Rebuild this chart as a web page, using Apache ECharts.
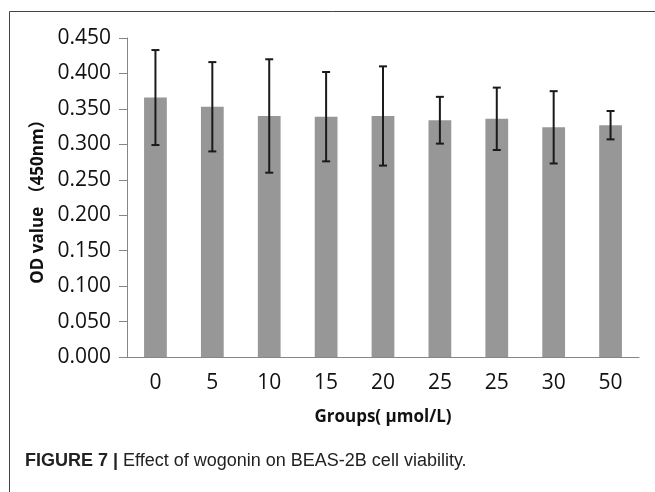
<!DOCTYPE html>
<html>
<head>
<meta charset="utf-8">
<script src="https://cdn.jsdelivr.net/npm/echarts@6/dist/echarts.min.js"></script>
<style>
    html, body {margin: 0; padding: 0; background: #fff;}
    #chart {width: 655px; height: 492px;}
</style>
</head>
<body>
<div id="chart"></div>
<script>
const groups = ["0", "5", "10", "15", "20", "25", "25", "30", "50"];
const odMean = [0.366, 0.353, 0.340, 0.339, 0.340, 0.334, 0.336, 0.324, 0.327];
const odSd = [0.067, 0.063, 0.080, 0.063, 0.070, 0.033, 0.044, 0.051, 0.020];

const axisFont = "'Open Sans', 'Noto Sans', sans-serif";
const captionFont = "'Liberation Sans Narrow', 'Liberation Sans', sans-serif";
const errData = odMean.map((m, i) => [i, m - odSd[i], m + odSd[i]]);

const chart = echarts.init(document.getElementById("chart"));

chart.setOption({
    animation: false,
    grid: {left: 127, right: 16, top: 38, bottom: 135},
    xAxis: {
        type: "category",
        data: groups,
        name: "Groups( μmol/L)",
        nameLocation: "middle",
        nameGap: 52,
        nameTextStyle: {color: "#111", fontSize: 17, fontWeight: "bold", fontFamily: axisFont},
        axisLine: {lineStyle: {color: "#868686", width: 1}},
        axisTick: {length: 8, lineStyle: {color: "#868686"}},
        axisLabel: {color: "#111", fontSize: 21, margin: 16, fontFamily: axisFont}
    },
    yAxis: {
        type: "value",
        min: 0,
        max: 0.45,
        interval: 0.05,
        name: "OD value （450nm）",
        nameLocation: "middle",
        nameGap: 80,
        nameTextStyle: {
            color: "#111", fontSize: 17, fontWeight: "bold",
            fontFamily: "'Open Sans', 'Noto Sans CJK SC', sans-serif"
        },
        splitLine: {show: false},
        axisLine: {show: true, lineStyle: {color: "#868686", width: 1}},
        axisTick: {show: true, length: 8, lineStyle: {color: "#868686"}},
        axisLabel: {
            color: "#111", fontSize: 21, margin: 16, fontFamily: axisFont,
            formatter: v => v.toFixed(3)
        }
    },
    series: [
        {
            type: "bar",
            data: odMean,
            barCategoryGap: "60%",
            itemStyle: {color: "#979797"}
        },
        {
            type: "custom",
            data: errData,
            z: 10,
            renderItem: (params, api) => {
                const lo = api.coord([api.value(0), api.value(1)]);
                const hi = api.coord([api.value(0), api.value(2)]);
                const cap = 4;
                const style = {stroke: "#1a1a1a", lineWidth: 2};
                return {
                    type: "group",
                    children: [
                        {type: "line", shape: {x1: hi[0], y1: hi[1], x2: lo[0], y2: lo[1]}, style},
                        {type: "line", shape: {x1: hi[0] - cap, y1: hi[1], x2: hi[0] + cap, y2: hi[1]}, style},
                        {type: "line", shape: {x1: lo[0] - cap, y1: lo[1], x2: lo[0] + cap, y2: lo[1]}, style}
                    ]
                };
            }
        }
    ],
    graphic: [
        // frame around the figure
        {type: "line", shape: {x1: 9.5, y1: 11.5, x2: 655, y2: 11.5}, style: {stroke: "#444", lineWidth: 1}},
        {type: "line", shape: {x1: 9.5, y1: 11.5, x2: 9.5, y2: 492}, style: {stroke: "#444", lineWidth: 1}},
        {
            type: "text",
            left: 25,
            top: 452,
            style: {
                text: "{b|FIGURE 7 |} Effect of wogonin on BEAS-2B cell viability.",
                fill: "#222",
                font: "18px " + captionFont,
                rich: {
                    b: {fontWeight: "bold", fontSize: 18, fontFamily: captionFont}
                }
            }
        }
    ]
});
</script>
</body>
</html>
